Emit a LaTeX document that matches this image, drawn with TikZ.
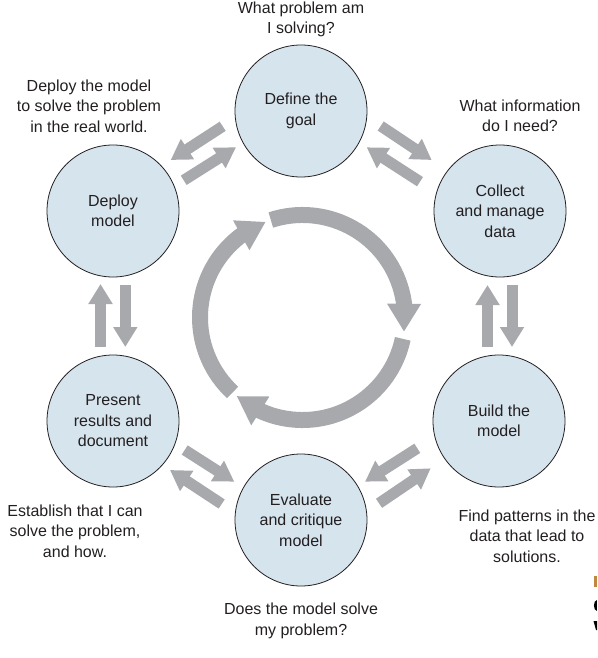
\documentclass[tikz,border=0pt]{standalone}
\usepackage{fontspec}
\setmainfont{Liberation Sans}
\usetikzlibrary{arrows.meta,bending,calc}
\definecolor{circfill}{HTML}{D6E4EE}
\definecolor{arrgray}{HTML}{A7A9AC}
\definecolor{txt}{HTML}{231F20}
\definecolor{figorange}{HTML}{C0883F}
\begin{document}
\begin{tikzpicture}[x=1pt,y=-1pt,
  stage/.style={circle, draw=txt, line width=0.8pt, fill=circfill,
    minimum size=132pt, inner sep=0pt, align=center, text=txt,
    font=\fontsize{16}{20.5}\selectfont},
  note/.style={align=center, inner sep=0pt, text=txt,
    font=\fontsize{16}{20.5}\selectfont},
  flow/.style={arrgray, line width=11pt, -{Triangle[length=20pt,width=23pt]}},
  cyc/.style={arrgray, line width=16pt, -{Triangle[length=28pt,width=32pt]}}]
\useasboundingbox (0,0) rectangle (597,658);

% stages
\node[stage] (goal)    at (301,111) {Define the\\goal};
\node[stage] (collect) at (500,211) {Collect\\and manage\\data};
\node[stage] (build)   at (499,421) {Build the\\model};
\node[stage] (eval)    at (301,520) {Evaluate\\and critique\\model};
\node[stage] (present) at (113,421) {Present\\results and\\document};
\node[stage] (deploy)  at (113,211) {Deploy\\model};

% notes
\node[note] (q1) at (301,19.5) {What problem am\\I solving?};
\node[note] (q2) at (520,116) {What information\\do I need?};
\node[note] (q3) at (527,536) {Find patterns in the\\data that lead to\\solutions.};
\node[note] (q4) at (301,621) {Does the model solve\\my problem?};
\node[note] (q5) at (75,531) {Establish that I can\\solve the problem,\\and how.};
\node[note] (q6) at (89,106) {Deploy the model\\to solve the problem\\in the real world.};

% block arrows between stages
\draw[flow] ($(goal)+(-78.3,15.3)$) -- ($(deploy)+(57.7,-51)$);
\draw[flow] ($(deploy)+(70.7,-30.7)$) -- ($(goal)+(-65,36.3)$);
\draw[flow] ($(goal)+(79.7,15)$) -- ($(collect)+(-68.3,-51)$);
\draw[flow] ($(collect)+(-80,-29.3)$) -- ($(goal)+(65.7,36.3)$);
\draw[flow] ($(collect)+(12,74)$) -- ($(build)+(13,-74)$);
\draw[flow] ($(build)+(-11.5,-74)$) -- ($(collect)+(-12.5,74)$);
\draw[flow] ($(build)+(-81.7,27.3)$) -- ($(eval)+(64,-38.3)$);
\draw[flow] ($(eval)+(78,-16.7)$) -- ($(build)+(-68.3,47.3)$);
\draw[flow] ($(eval)+(-79.3,-16)$) -- ($(present)+(57,49)$);
\draw[flow] ($(present)+(71.7,29)$) -- ($(eval)+(-66.7,-38.3)$);
\draw[flow] ($(present)+(-12.5,-74)$) -- ($(deploy)+(-12.5,73)$);
\draw[flow] ($(deploy)+(12.3,74)$) -- ($(present)+(12.3,-74)$);

% central cycle
\coordinate (ctr) at (302.5,317.5);
\draw[cyc] ($(ctr)+(-108:102.5)$) arc[start angle=-108, end angle=8, radius=102.5];
\draw[cyc] ($(ctr)+(12:102.5)$) arc[start angle=12, end angle=130, radius=102.5];
\draw[cyc] ($(ctr)+(133:102.5)$) arc[start angle=133, end angle=249, radius=102.5];

% cropped fragments at the lower right edge
\fill[figorange] (593.7,576) rectangle (597,587);
\fill[black] (597,600) .. controls (593.2,600) and (593.2,611) .. (597,611) -- cycle;
\fill[black] (593.5,621) -- (597,621) -- (597,630) -- (596,630) -- cycle;
\end{tikzpicture}
\end{document}
